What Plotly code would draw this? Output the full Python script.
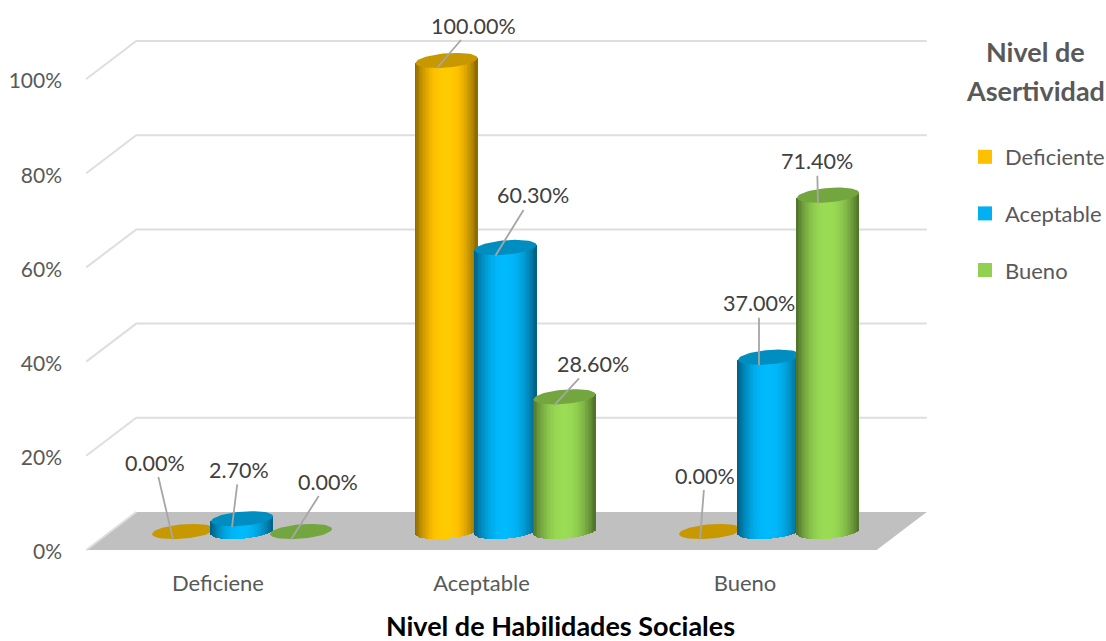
import math
import plotly.graph_objects as go

# ---- data ----
categories = ["Deficiene", "Aceptable", "Bueno"]
series_names = ["Deficiente", "Aceptable", "Bueno"]
deficiente = [0.0, 100.0, 0.0]
aceptable = [2.7, 60.3, 37.0]
bueno = [0.0, 28.6, 71.4]
y_ticks = [0, 20, 40, 60, 80, 100]
y_tick_labels = ["0%", "20%", "40%", "60%", "80%", "100%"]

# ---- styles ----
base_colors = [(255, 192, 0), (0, 176, 240), (146, 208, 80)]
top_colors = ["#C89800", "#008DC0", "#74A640"]
legend_colors = ["#FFC000", "#00B0F0", "#92D050"]
TXT = "#595959"
FONT = "Lato"
label_shift = [  # label centre relative to leader start, px (series, category)
    [(-18, -77), (37, -43), (5, -64)],
    [(7, -57), (37, -60), (0, -62)],
    [(37, -58), (38, -41), (-1, -42)],
]

# ---- geometry: px per unit of the two axes ----
PX_X = 263.5
PX_Y = 4.71
PLOT_L, PLOT_B = 63, 75
X0_PX = 218
Y0_PX = 550
W, H = 1106, 641
x_range = [(PLOT_L - X0_PX) / PX_X, (W - X0_PX) / PX_X]
y_range = [-(H - PLOT_B - Y0_PX) / PX_Y, Y0_PX / PX_Y]

DEPTH_X, DEPTH_Y = 50 / PX_X, 38 / PX_Y       # back wall
MID_X, MID_Y = 24 / PX_X, 18.5 / PX_Y         # depth of the cylinders
PITCH = 59 / PX_X
A = 31 / PX_X
B = 7.2 / PX_Y
SKEW = 2.5 / PX_Y
N = 44
X_L, X_R = -0.5, 2.5

fig = go.Figure()


def shade(rgb, t):
    edge = abs(2 * t - 1) ** 2.2
    f = 1.06 - 0.52 * min(edge, 1)
    return "rgb(%d,%d,%d)" % tuple(min(255, int(c * f)) for c in rgb)


all_series = [deficiente, aceptable, bueno]
for s, values in enumerate(all_series):
    xa = "x" if s == 0 else f"x{s + 1}"
    ya = "y" if s == 0 else f"y{s + 1}"
    xs, bases, heights, colors = [], [], [], []
    tx, ty = [], []
    for c, v in enumerate(values):
        cx = c + MID_X + (s - 1) * PITCH
        y0 = MID_Y
        top = v + MID_Y
        if v > 0:
            for i in range(N):
                t = (i + 0.5) / N
                u = 2 * t - 1
                drop = B * math.sqrt(1 - u * u)
                xs.append(cx + A * u)
                bases.append(y0 - drop + SKEW * u)
                heights.append(v + drop)
                colors.append(shade(base_colors[s], t))
        for k in range(61):
            a = 2 * math.pi * k / 60
            tx.append(cx + A * math.cos(a))
            ty.append(top + B * math.sin(a) + SKEW * math.cos(a))
        tx.append(None)
        ty.append(None)
    fig.add_trace(go.Bar(
        x=xs, y=heights, base=bases, width=[2 * A / N * 1.25] * len(xs),
        marker=dict(color=colors, line=dict(width=0)),
        xaxis=xa, yaxis=ya, showlegend=False, hoverinfo="skip",
    ))
    fig.add_trace(go.Scatter(
        x=tx, y=ty, mode="lines", fill="toself", fillcolor=top_colors[s],
        line=dict(width=0, color=top_colors[s]), xaxis=xa, yaxis=ya,
        showlegend=False, hoverinfo="skip",
    ))

# legend entries
for name, col in zip(series_names, legend_colors):
    fig.add_trace(go.Scatter(
        x=[None], y=[None], mode="markers", name=name, legendgroup=name,
        marker=dict(symbol="square", size=14, color=col),
    ))

# floor and walls
shapes = [dict(
    type="path", xref="x", yref="y", layer="below", line=dict(width=0),
    fillcolor="#C0C0C0",
    path=f"M{X_L},0 L{X_L + DEPTH_X},{DEPTH_Y} L{X_R + DEPTH_X},{DEPTH_Y} L{X_R},0 Z",
)]
for v in y_ticks[1:]:
    shapes.append(dict(
        type="path", xref="x", yref="y", layer="below",
        line=dict(width=2, color="#DEDEDE"),
        path=f"M{X_L},{v} L{X_L + DEPTH_X},{v + DEPTH_Y} L{X_R + DEPTH_X},{v + DEPTH_Y}",
    ))
shapes.append(dict(
    type="path", xref="x", yref="y", layer="below",
    line=dict(width=2, color="#DEDEDE"),
    path=f"M{X_L},0 L{X_L + DEPTH_X},{DEPTH_Y}",
))

# data labels with leader lines
annotations = []
for s, values in enumerate(all_series):
    for c, v in enumerate(values):
        cx = c + MID_X + (s - 1) * PITCH
        dx, dy = label_shift[s][c]
        annotations.append(dict(
            x=cx - 10 / PX_X, y=v + MID_Y - 8 / PX_Y, xref="x", yref="y",
            ax=dx, ay=dy, axref="pixel", ayref="pixel",
            text=f"{v:.2f}%", showarrow=True, arrowhead=0, arrowwidth=1.8,
            arrowcolor="#A6A6A6", font=dict(family=FONT, size=21.5, color="#404040"),
        ))

# legend heading
plot_w = W - PLOT_L
plot_h = H - PLOT_B
for text, ypx in (("<b>Nivel de</b>", 52), ("<b>Asertividad</b>", 90)):
    annotations.append(dict(
        x=(1035 - PLOT_L) / plot_w, y=1 - ypx / plot_h, xref="paper", yref="paper",
        text=text, showarrow=False, xanchor="center", yanchor="middle",
        font=dict(family=FONT, size=27, color=TXT),
    ))

fig.update_layout(
    width=W, height=H,
    margin=dict(l=PLOT_L, r=0, t=0, b=PLOT_B, pad=0, autoexpand=False),
    paper_bgcolor="white", plot_bgcolor="white",
    barmode="overlay", bargap=0,
    font=dict(family=FONT, size=20, color=TXT),
    shapes=shapes, annotations=annotations,
    title=dict(text="<b>Nivel de Habilidades Sociales</b>", x=560.5 / W, xanchor="center",
               y=1 - 627 / H, yanchor="middle", xref="container", yref="container",
               font=dict(family=FONT, size=27, color="black")),
    xaxis=dict(
        range=x_range, tickmode="array", tickvals=[0, 1, 2], ticktext=categories,
        showgrid=False, zeroline=False, showline=False, ticks="",
        tickfont=dict(size=22, color=TXT), ticklabelstandoff=2,
    ),
    yaxis=dict(
        range=y_range, tickmode="array", tickvals=y_ticks, ticktext=y_tick_labels,
        showgrid=False, zeroline=False, showline=False, ticks="",
        tickfont=dict(size=21, color=TXT), ticklabelshift=2,
    ),
    legend=dict(
        x=(965 - PLOT_L) / plot_w, xanchor="left", y=1 - 136 / plot_h, yanchor="top",
        font=dict(family=FONT, size=22, color=TXT),
        tracegroupgap=25, itemclick=False, itemdoubleclick=False,
        bgcolor="rgba(0,0,0,0)",
    ),
)
for s in (2, 3):
    fig.update_layout({
        f"xaxis{s}": dict(overlaying="x", matches="x", visible=False),
        f"yaxis{s}": dict(overlaying="y", matches="y", visible=False),
    })

fig.write_html("out.html", config=dict(displayModeBar=False),
               post_script="document.body.style.margin='0';")
